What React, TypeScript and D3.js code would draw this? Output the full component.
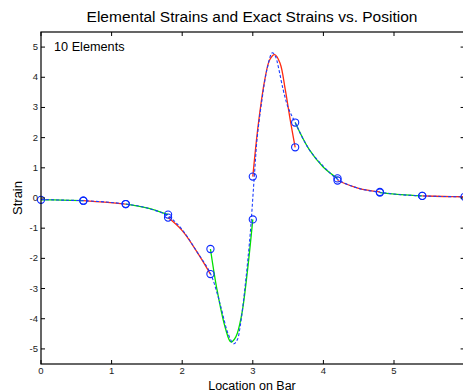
import React, { useEffect, useRef } from 'react';
import * as d3 from 'd3';

// exact strain
const exactX = [0, 0.3, 0.6, 0.9, 1.2, 1.5, 1.8, 2.0, 2.2, 2.4, 2.5, 2.56, 2.65, 2.73, 2.78, 2.82, 2.89, 2.94, 2.97, 3.0,
  3.03, 3.06, 3.13, 3.2, 3.276, 3.32, 3.36, 3.43, 3.5, 3.6, 3.8, 4.0, 4.2, 4.5, 4.8, 5.1, 5.4, 5.7, 6.0];
const exactStrain = [-0.05, -0.07, -0.09, -0.13, -0.2, -0.33, -0.6, -1.05, -1.75, -2.5, -3.2, -3.72, -4.5, -4.83, -4.7, -4.27, -2.95, -1.8, -1.0, 0,
  1.0, 1.95, 3.26, 4.25, 4.81, 4.7, 4.36, 3.59, 3.0, 2.5, 1.6, 1.05, 0.62, 0.32, 0.19, 0.11, 0.07, 0.05, 0.04];

// element strains, 10 elements
const elementX = [
  [0, 0.3, 0.6],
  [0.6, 0.9, 1.2],
  [1.2, 1.5, 1.8],
  [1.8, 2.0, 2.2, 2.4],
  [2.4, 2.49, 2.61, 2.69, 2.76, 2.84, 2.92, 3.0],
  [3.0, 3.08, 3.17, 3.24, 3.31, 3.385, 3.46, 3.53, 3.6],
  [3.6, 3.8, 4.0, 4.2],
  [4.2, 4.5, 4.8],
  [4.8, 5.1, 5.4],
  [5.4, 5.7, 6.0]
];
const elementStrain = [
  [-0.06, -0.07, -0.09],
  [-0.09, -0.14, -0.2],
  [-0.2, -0.33, -0.55],
  [-0.65, -1.08, -1.75, -2.52],
  [-1.69, -3.0, -4.3, -4.77, -4.6, -3.9, -2.5, -0.71],
  [0.71, 2.48, 3.92, 4.58, 4.75, 4.47, 3.59, 2.59, 1.68],
  [2.5, 1.6, 1.02, 0.65],
  [0.58, 0.32, 0.2],
  [0.18, 0.11, 0.07],
  [0.07, 0.05, 0.04]
];

const xTicks = [0, 1, 2, 3, 4, 5];
const yTicks = [-5, -4, -3, -2, -1, 0, 1, 2, 3, 4, 5];

const App = () => {
  const ref = useRef<SVGSVGElement>(null);

  useEffect(() => {
    const width = 463, height = 392;
    const left = 41, top = 32, bottom = 364;
    const x = d3.scaleLinear().domain([0, 6]).range([left, left + 6 * 70.6]);
    const y = d3.scaleLinear().domain([-5.5, 5.5]).range([bottom, top]);
    const right = x(6);
    const font = 'Helvetica, Arial, "Liberation Sans", sans-serif';

    const svg = d3.select(ref.current);
    svg.selectAll('*').remove();
    svg.attr('width', width).attr('height', height);
    svg.append('rect').attr('width', width).attr('height', height).attr('fill', '#fff');

    const line = d3.line<[number, number]>()
      .x(d => x(d[0]))
      .y(d => y(d[1]))
      .curve(d3.curveCatmullRom);

    const plot = svg.append('g');

    // element strains
    elementX.forEach((xs, i) => {
      const pts = xs.map((v, j) => [v, elementStrain[i][j]] as [number, number]);
      plot.append('path')
        .attr('d', line(pts))
        .attr('fill', 'none')
        .attr('stroke', i % 2 == 0 ? '#00e000' : '#ff2a10')
        .attr('stroke-width', 1.3);
    });

    // exact strain
    plot.append('path')
      .attr('d', line(exactX.map((v, i) => [v, exactStrain[i]] as [number, number])))
      .attr('fill', 'none')
      .attr('stroke', '#1a3cff')
      .attr('stroke-width', 1.1)
      .attr('stroke-dasharray', '3,2');

    // element end points
    elementX.forEach((xs, i) => {
      const s = elementStrain[i];
      [[xs[0], s[0]], [xs[xs.length - 1], s[s.length - 1]]].forEach(p => {
        plot.append('circle')
          .attr('cx', x(p[0]))
          .attr('cy', y(p[1]))
          .attr('r', 3.6)
          .attr('fill', 'none')
          .attr('stroke', '#0a28ff')
          .attr('stroke-width', 1.1);
      });
    });

    // frame
    svg.append('rect')
      .attr('x', left).attr('y', top)
      .attr('width', right - left).attr('height', bottom - top)
      .attr('fill', 'none').attr('stroke', '#000').attr('stroke-width', 1.2);

    const tl = 4;
    xTicks.forEach(t => {
      svg.append('line').attr('x1', x(t)).attr('x2', x(t)).attr('y1', bottom).attr('y2', bottom - tl)
        .attr('stroke', '#000');
      svg.append('line').attr('x1', x(t)).attr('x2', x(t)).attr('y1', top).attr('y2', top + tl)
        .attr('stroke', '#000');
      svg.append('text')
        .attr('x', x(t)).attr('y', bottom + 10)
        .attr('text-anchor', 'middle')
        .attr('font-family', font).attr('font-size', 9.5)
        .attr('fill', '#222')
        .text(t);
    });
    yTicks.forEach(t => {
      svg.append('line').attr('x1', left).attr('x2', left + tl).attr('y1', y(t)).attr('y2', y(t))
        .attr('stroke', '#000');
      svg.append('line').attr('x1', right).attr('x2', right - tl).attr('y1', y(t)).attr('y2', y(t))
        .attr('stroke', '#000');
      svg.append('text')
        .attr('x', left - 3).attr('y', y(t) + 3)
        .attr('text-anchor', 'end')
        .attr('font-family', font).attr('font-size', 9.5)
        .attr('fill', '#222')
        .text(t);
    });

    svg.append('text')
      .attr('x', 252).attr('y', 22)
      .attr('text-anchor', 'middle')
      .attr('font-family', font).attr('font-size', 15.5)
      .attr('fill', '#000')
      .text('Elemental Strains and Exact Strains vs. Position');
    svg.append('text')
      .attr('x', 54).attr('y', 51)
      .attr('font-family', font).attr('font-size', 12.7)
      .attr('fill', '#000')
      .text('10 Elements');
    svg.append('text')
      .attr('x', 252).attr('y', 390)
      .attr('text-anchor', 'middle')
      .attr('font-family', font).attr('font-size', 12.5)
      .attr('fill', '#000')
      .text('Location on Bar');
    svg.append('text')
      .attr('transform', `translate(22,${y(0)}) rotate(-90)`)
      .attr('text-anchor', 'middle')
      .attr('font-family', font).attr('font-size', 13)
      .attr('fill', '#000')
      .text('Strain');
  }, []);

  return (
    <svg ref={ref} style={{ position: 'absolute', left: 0, top: 0 }}></svg>
  );
};

export default App;
